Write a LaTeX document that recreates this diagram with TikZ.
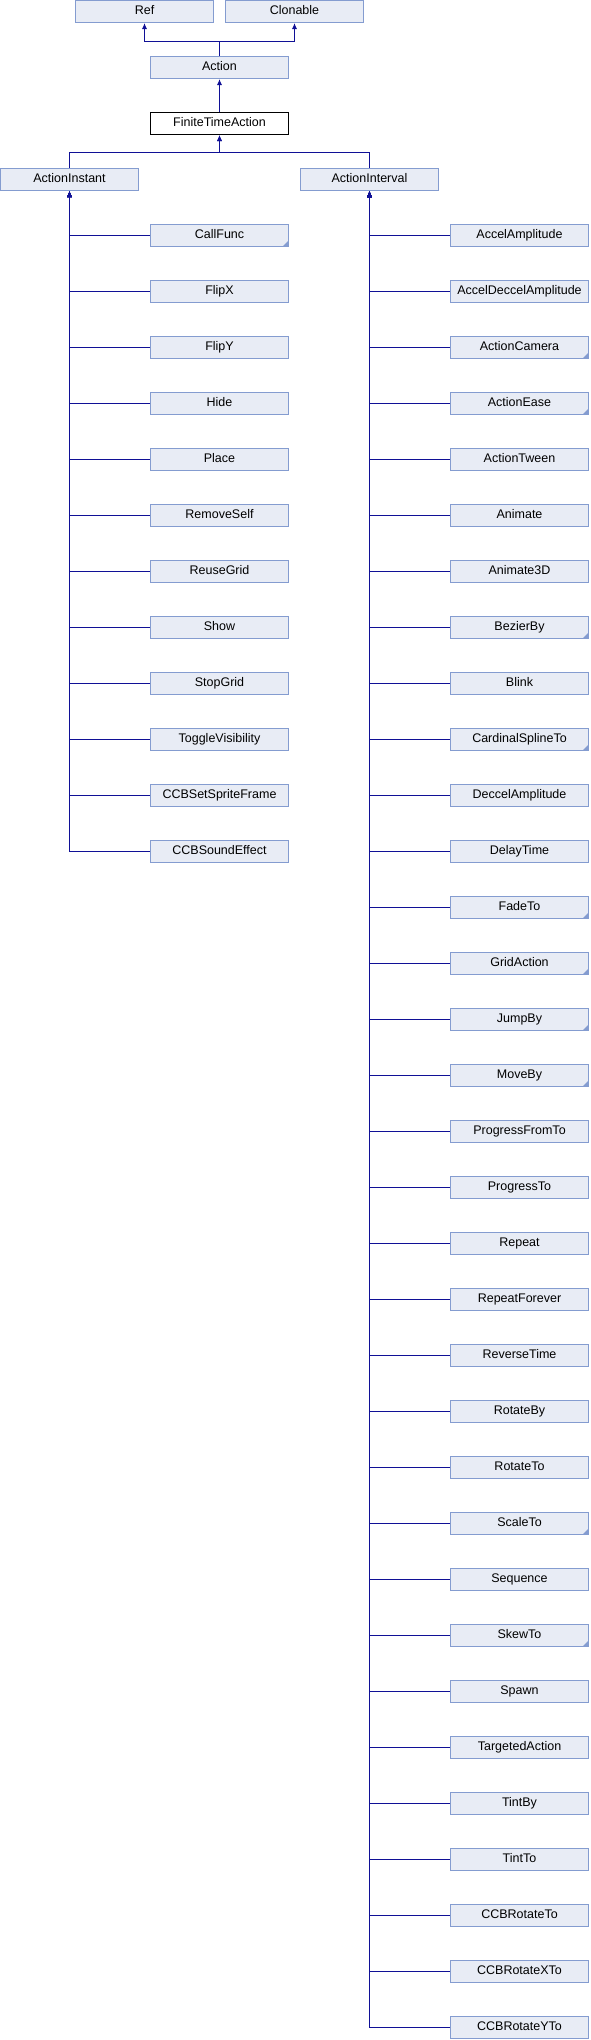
\documentclass[tikz,border=0pt]{standalone}
\usepackage{fontspec}
\setmainfont{Liberation Sans}
\usetikzlibrary{arrows.meta, positioning}
\definecolor{edgeblue}{RGB}{16,16,150}
\definecolor{boxborder}{RGB}{132,156,208}
\definecolor{boxfill}{RGB}{232,236,245}

\begin{document}
\begin{tikzpicture}[
			x=1pt, y=-1pt,
			node distance=33pt and 1.6cm,
			every node/.style={font=\fontsize{12.5}{14}\selectfont},
			classbox/.style={rectangle, draw=boxborder, fill=boxfill, line width=1pt, align=center, minimum width=138pt, minimum height=22pt, inner sep=1pt, text height=9pt, text depth=2.5pt},
			current/.style={classbox, draw=black, fill=white},
			abstract/.style={classbox, path picture={\fill[boxborder] (path picture bounding box.south east) -- ++(-6pt,0pt) -- ++(6pt,6pt) -- cycle;}},
			arrow/.style={-{Latex[length=6pt,width=5pt]}, edgeblue, line width=1pt}
			]

			\useasboundingbox (0,0) rectangle (590,2040);

			% bases and the class itself
			\node[classbox] (ref) at (144.5,11.5) {Ref};
			\node[classbox] (clonable) at (294.5,11.5) {Clonable};
			\node[classbox] (action) at (219.5,67.5) {Action};
			\node[current] (finitetime) at (219.5,123.5) {FiniteTimeAction};
			\node[classbox] (instant) at (69.5,179.5) {ActionInstant};
			\node[classbox] (interval) at (369.5,179.5) {ActionInterval};

			% instant actions
			\node[abstract] (callfunc) at (219.5,235.5) {CallFunc};
			\node[classbox, below=of callfunc] (flipx) {FlipX};
			\node[classbox, below=of flipx] (flipy) {FlipY};
			\node[classbox, below=of flipy] (hide) {Hide};
			\node[classbox, below=of hide] (place) {Place};
			\node[classbox, below=of place] (removeself) {RemoveSelf};
			\node[classbox, below=of removeself] (reusegrid) {ReuseGrid};
			\node[classbox, below=of reusegrid] (show) {Show};
			\node[classbox, below=of show] (stopgrid) {StopGrid};
			\node[classbox, below=of stopgrid] (togglevis) {ToggleVisibility};
			\node[classbox, below=of togglevis] (ccbspriteframe) {CCBSetSpriteFrame};
			\node[classbox, below=of ccbspriteframe] (ccbsound) {CCBSoundEffect};

			% interval actions
			\node[classbox] (accelamp) at (519.5,235.5) {AccelAmplitude};
			\node[classbox, below=of accelamp] (acceldeccel) {AccelDeccelAmplitude};
			\node[abstract, below=of acceldeccel] (camera) {ActionCamera};
			\node[abstract, below=of camera] (ease) {ActionEase};
			\node[classbox, below=of ease] (tween) {ActionTween};
			\node[classbox, below=of tween] (animate) {Animate};
			\node[classbox, below=of animate] (animate3d) {Animate3D};
			\node[abstract, below=of animate3d] (bezierby) {BezierBy};
			\node[classbox, below=of bezierby] (blink) {Blink};
			\node[abstract, below=of blink] (cardinal) {CardinalSplineTo};
			\node[classbox, below=of cardinal] (deccelamp) {DeccelAmplitude};
			\node[classbox, below=of deccelamp] (delaytime) {DelayTime};
			\node[abstract, below=of delaytime] (fadeto) {FadeTo};
			\node[abstract, below=of fadeto] (gridaction) {GridAction};
			\node[abstract, below=of gridaction] (jumpby) {JumpBy};
			\node[abstract, below=of jumpby] (moveby) {MoveBy};
			\node[classbox, below=of moveby] (progressfromto) {ProgressFromTo};
			\node[classbox, below=of progressfromto] (progressto) {ProgressTo};
			\node[classbox, below=of progressto] (repeat) {Repeat};
			\node[classbox, below=of repeat] (repeatforever) {RepeatForever};
			\node[classbox, below=of repeatforever] (reversetime) {ReverseTime};
			\node[classbox, below=of reversetime] (rotateby) {RotateBy};
			\node[classbox, below=of rotateby] (rotateto) {RotateTo};
			\node[abstract, below=of rotateto] (scaleto) {ScaleTo};
			\node[classbox, below=of scaleto] (sequence) {Sequence};
			\node[abstract, below=of sequence] (skewto) {SkewTo};
			\node[classbox, below=of skewto] (spawn) {Spawn};
			\node[classbox, below=of spawn] (targeted) {TargetedAction};
			\node[classbox, below=of targeted] (tintby) {TintBy};
			\node[classbox, below=of tintby] (tintto) {TintTo};
			\node[classbox, below=of tintto] (ccbrotateto) {CCBRotateTo};
			\node[classbox, below=of ccbrotateto] (ccbrotatexto) {CCBRotateXTo};
			\node[classbox, below=of ccbrotatexto] (ccbrotateyto) {CCBRotateYTo};

			% inheritance
			\draw[arrow] (action.north) -- ++(0,-15) -| (ref.south);
			\draw[arrow] (action.north) -- ++(0,-15) -| (clonable.south);
			\draw[arrow] (finitetime.north) -- (action.south);
			\draw[arrow] (instant.north) -- ++(0,-16) -| (finitetime.south);
			\draw[arrow] (interval.north) -- ++(0,-16) -| (finitetime.south);

			\draw[arrow] (callfunc.west) -| (instant.south);
			\draw[arrow] (flipx.west) -| (instant.south);
			\draw[arrow] (flipy.west) -| (instant.south);
			\draw[arrow] (hide.west) -| (instant.south);
			\draw[arrow] (place.west) -| (instant.south);
			\draw[arrow] (removeself.west) -| (instant.south);
			\draw[arrow] (reusegrid.west) -| (instant.south);
			\draw[arrow] (show.west) -| (instant.south);
			\draw[arrow] (stopgrid.west) -| (instant.south);
			\draw[arrow] (togglevis.west) -| (instant.south);
			\draw[arrow] (ccbspriteframe.west) -| (instant.south);
			\draw[arrow] (ccbsound.west) -| (instant.south);

			\draw[arrow] (accelamp.west) -| (interval.south);
			\draw[arrow] (acceldeccel.west) -| (interval.south);
			\draw[arrow] (camera.west) -| (interval.south);
			\draw[arrow] (ease.west) -| (interval.south);
			\draw[arrow] (tween.west) -| (interval.south);
			\draw[arrow] (animate.west) -| (interval.south);
			\draw[arrow] (animate3d.west) -| (interval.south);
			\draw[arrow] (bezierby.west) -| (interval.south);
			\draw[arrow] (blink.west) -| (interval.south);
			\draw[arrow] (cardinal.west) -| (interval.south);
			\draw[arrow] (deccelamp.west) -| (interval.south);
			\draw[arrow] (delaytime.west) -| (interval.south);
			\draw[arrow] (fadeto.west) -| (interval.south);
			\draw[arrow] (gridaction.west) -| (interval.south);
			\draw[arrow] (jumpby.west) -| (interval.south);
			\draw[arrow] (moveby.west) -| (interval.south);
			\draw[arrow] (progressfromto.west) -| (interval.south);
			\draw[arrow] (progressto.west) -| (interval.south);
			\draw[arrow] (repeat.west) -| (interval.south);
			\draw[arrow] (repeatforever.west) -| (interval.south);
			\draw[arrow] (reversetime.west) -| (interval.south);
			\draw[arrow] (rotateby.west) -| (interval.south);
			\draw[arrow] (rotateto.west) -| (interval.south);
			\draw[arrow] (scaleto.west) -| (interval.south);
			\draw[arrow] (sequence.west) -| (interval.south);
			\draw[arrow] (skewto.west) -| (interval.south);
			\draw[arrow] (spawn.west) -| (interval.south);
			\draw[arrow] (targeted.west) -| (interval.south);
			\draw[arrow] (tintby.west) -| (interval.south);
			\draw[arrow] (tintto.west) -| (interval.south);
			\draw[arrow] (ccbrotateto.west) -| (interval.south);
			\draw[arrow] (ccbrotatexto.west) -| (interval.south);
			\draw[arrow] (ccbrotateyto.west) -| (interval.south);

		\end{tikzpicture}
\end{document}
